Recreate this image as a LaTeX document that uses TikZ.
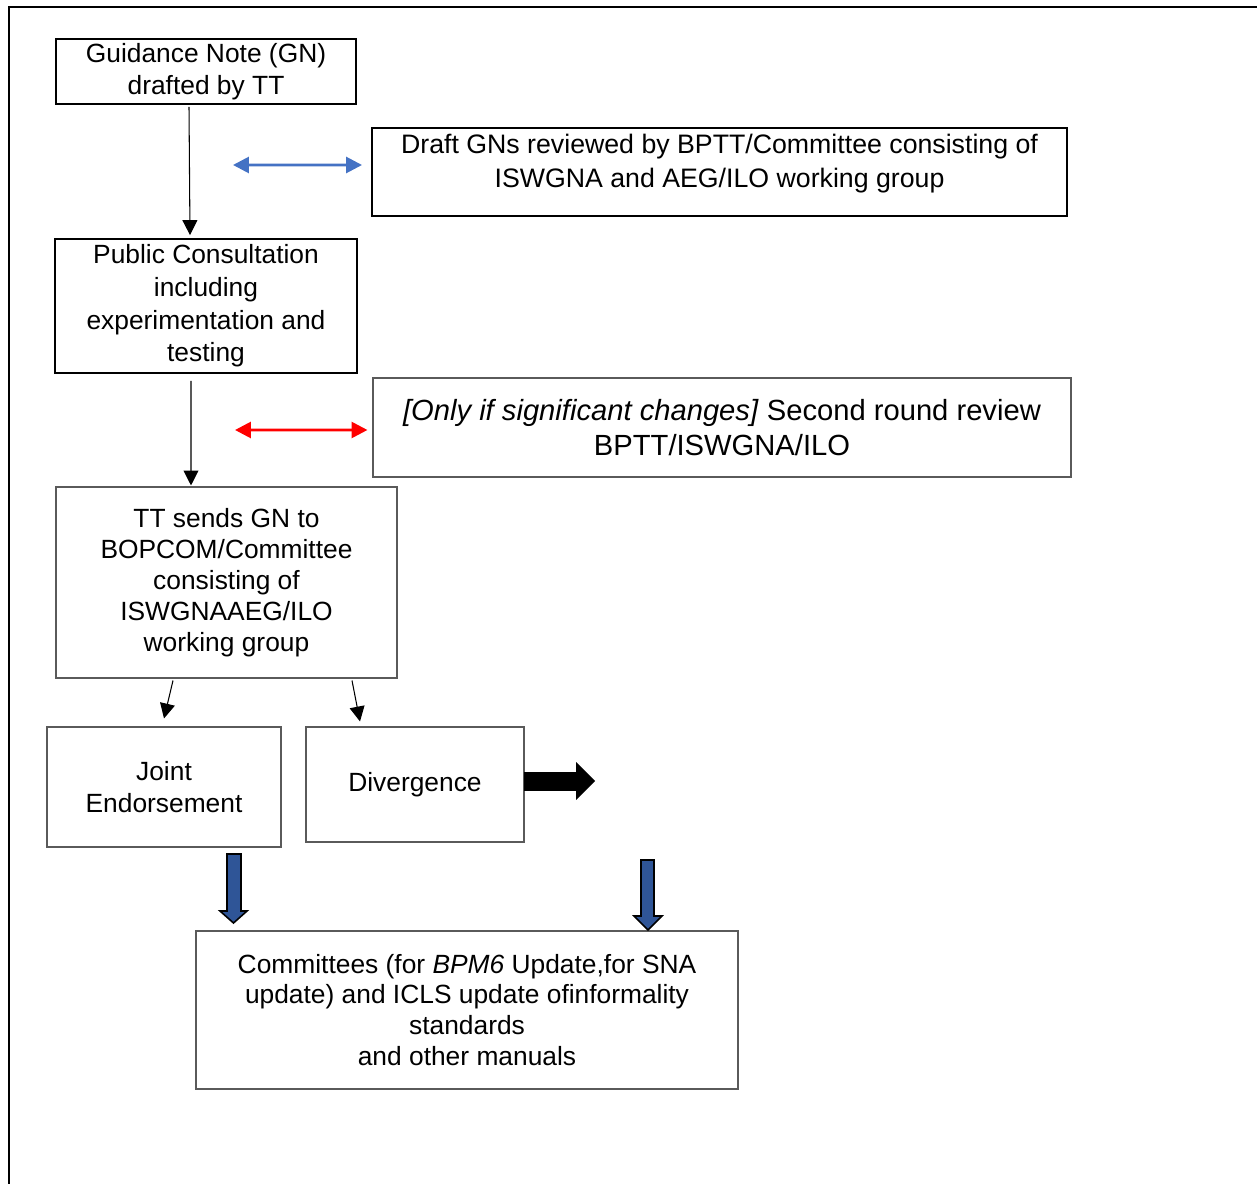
\documentclass[tikz,border=0pt]{standalone}
\usepackage{fontspec}
\setmainfont{Liberation Sans}
\usepackage{xcolor}
\definecolor{Black}{RGB}{0,0,0}
\definecolor{Grey}{RGB}{90,90,90}
\definecolor{Blue}{RGB}{68,114,196}
\definecolor{Navy}{RGB}{47,85,151}
\definecolor{Red}{RGB}{255,0,0}
\usepackage{tikz}
\usetikzlibrary{arrows.meta}

\begin{document}
\begin{tikzpicture}[x=0.2mm, y=-0.2mm,
	thickbox/.style={draw=Black, line width=1.1pt, align=center, inner sep=0pt, font=\fontsize{15}{18}\selectfont},
	thinbox/.style={draw=Grey, line width=0.6pt, align=center, inner sep=0pt, font=\fontsize{15}{18}\selectfont},
	flow/.style={-{Triangle[length=8.5pt, width=8.5pt]}, draw=Black, line width=0.6pt},
	link/.style={{Triangle[length=9pt, width=9pt]}-{Triangle[length=9pt, width=9pt]}, line width=1.6pt},
	block/.style={draw=Black, line width=0.9pt}]
		
		% Frame
		\useasboundingbox (0,0) rectangle (1257,1184);
		\draw[draw=Black, line width=1.7pt] (9,1184) -- (9,7) -- (1257,7);
		
		% Blocks
		\node[thickbox, minimum width=6cm, minimum height=1.3cm] (gn) at (206,71.5) {Guidance Note (GN)\\drafted by TT};
		\node[thickbox, minimum width=13.9cm, minimum height=1.76cm, font=\fontsize{15.2}{19.5}\selectfont] (draft) at (719.5,172) {Draft GNs reviewed by BPTT/Committee consisting of\\ISWGNA and AEG/ILO working group\\[-6.5pt]\mbox{}};
		\node[thickbox, minimum width=6.04cm, minimum height=2.68cm, font=\fontsize{15}{18.6}\selectfont] (pc) at (206,306) {Public Consultation\\including\\experimentation and\\testing};
		\node[thinbox, minimum width=13.96cm, minimum height=1.98cm, font=\fontsize{16.6}{19.5}\selectfont] (only) at (722,427.5) {\textit{[Only if significant changes]} Second round review\\BPTT/ISWGNA/ILO};
		\node[thinbox, minimum width=6.82cm, minimum height=3.82cm, font=\fontsize{15}{17.6}\selectfont] (tt) at (226.5,582.5) {TT sends GN to\\BOPCOM/Committee\\consisting of\\ISWGNAAEG/ILO\\working group};
		\node[thinbox, minimum width=4.68cm, minimum height=2.4cm] (joint) at (164,787) {Joint\\Endorsement};
		\node[thinbox, minimum width=4.36cm, minimum height=2.3cm] (div) at (415,784.5) {Divergence};
		\node[thinbox, minimum width=10.84cm, minimum height=3.16cm, font=\fontsize{15}{17.6}\selectfont] (comm) at (467,1010) {Committees (for \textit{BPM6} Update,for SNA\\update) and ICLS update ofinformality\\standards\\and other manuals};
		
		% Flow
		\draw[flow] ([xshift=-0.34cm, yshift=-0.04cm]gn.south) -- ([xshift=-0.32cm, yshift=0.06cm]pc.north);
		\draw[flow] ([xshift=-0.30cm, yshift=-0.14cm]pc.south) -- ([xshift=-0.71cm, yshift=0.02cm]tt.north);
		\draw[flow] ([xshift=-1.07cm, yshift=-0.04cm]tt.south) -- ([yshift=0.16cm]joint.north);
		\draw[flow] ([xshift=2.51cm, yshift=-0.04cm]tt.south) -- ([xshift=-1.1cm, yshift=0.1cm]div.north);
		
		% Review
		\coordinate (bluel) at (233,165);
		\coordinate (redl) at (235,430);
		\draw[link, draw=Blue, fill=Blue] (bluel) -- ([xshift=-0.18cm, yshift=0.14cm]draft.west);
		\draw[link, draw=Red, fill=Red] (redl) -- ([xshift=-0.1cm, yshift=-0.05cm]only.west);
		
		% Block arrows
		\filldraw[block, fill=Black] (525,773) -- (577,773) -- (577,764) -- (594,781) -- (577,798) -- (577,790) -- (525,790) -- cycle;
		\filldraw[block, fill=Navy] (227,854) -- (241,854) -- (241,911) -- (247,911) -- (233.5,923) -- (220,911) -- (227,911) -- cycle;
		\filldraw[block, fill=Navy] (641,860) -- (654,860) -- (654,916) -- (662,916) -- (648,930) -- (634,916) -- (641,916) -- cycle;
		
	\end{tikzpicture}
\end{document}
